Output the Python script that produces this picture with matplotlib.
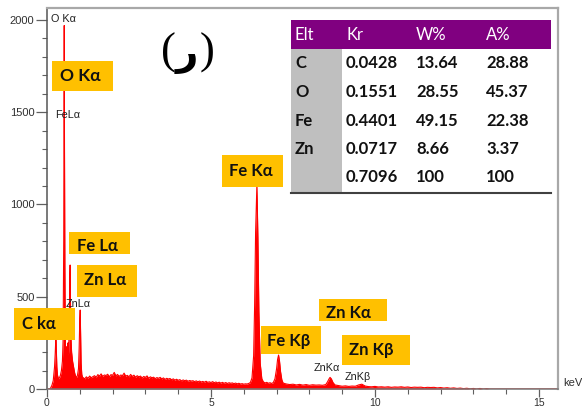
import numpy as np
import matplotlib
matplotlib.use("Agg")
import matplotlib.pyplot as plt
from matplotlib.patches import Rectangle
from matplotlib.ticker import MultipleLocator

# ---------------- data ----------------
# low-energy region (C, O, Fe L, Zn L)
low_E = [0.00, 0.10, 0.15, 0.19, 0.23, 0.25, 0.27, 0.28, 0.30, 0.32, 0.35, 0.38, 0.41,
         0.44, 0.47, 0.49, 0.51, 0.52, 0.525, 0.53, 0.545, 0.56, 0.58, 0.60, 0.62, 0.64,
         0.66, 0.68, 0.695, 0.705, 0.715, 0.73, 0.75, 0.78, 0.81, 0.84, 0.87, 0.90, 0.93,
         0.96, 0.98, 1.00, 1.012, 1.025, 1.04, 1.06, 1.08]
low_counts = [0, 2, 20, 45, 120, 190, 280, 240, 120, 75, 55, 60, 75,
              100, 150, 260, 800, 1500, 1970, 1500, 650, 240, 180, 230, 160, 250,
              190, 380, 600, 672, 480, 280, 200, 150, 120, 90, 70, 62, 75,
              110, 220, 380, 428, 300, 140, 80, 65]

# background 1.10 - 6.20 keV (0.05 keV channels)
bg1_counts = [62, 55, 66, 58, 70, 61, 67, 72, 63, 78, 70, 82, 68, 76, 73, 80, 66, 78, 74, 90,
              71, 79, 68, 76, 72, 86, 70, 74, 66, 79, 68, 75, 64, 72, 66, 70, 60, 68, 63, 71,
              58, 66, 61, 64, 56, 62, 58, 63, 55, 60, 52, 58, 54, 57, 50, 55, 48, 53, 47, 51,
              44, 49, 45, 48, 42, 46, 43, 45, 40, 44, 39, 43, 38, 41, 37, 42, 36, 39, 35, 40,
              34, 38, 33, 37, 32, 36, 31, 35, 30, 34, 31, 33, 29, 32, 28, 31, 27, 29, 26, 28,
              27, 30, 35]

# Fe K region
feK_E = [6.25, 6.30, 6.33, 6.36, 6.40, 6.43, 6.46, 6.50, 6.55, 6.60, 6.65, 6.70, 6.75,
         6.80, 6.85, 6.90, 6.95, 7.00, 7.03, 7.06, 7.09, 7.12, 7.16, 7.20]
feK_counts = [60, 180, 450, 850, 1110, 820, 420, 140, 55, 38, 33, 36, 31,
              34, 30, 35, 55, 110, 160, 184, 150, 95, 50, 32]

# background 7.3 - 8.5 keV
bg2_counts = [27, 24, 26, 22, 25, 21, 24, 20, 23, 21, 22, 20, 24]

# Zn K-alpha
znK_E = [8.55, 8.60, 8.63, 8.67, 8.72, 8.78]
znK_counts = [38, 55, 63, 55, 35, 22]

# background 8.9 - 13.6 keV (includes Zn K-beta)
bg3_counts = [18, 15, 17, 14, 16, 15, 22, 26, 16, 13, 12, 14, 11, 12, 10, 12, 9, 11, 10, 12,
              9, 11, 8, 10, 9, 10, 7, 9, 8, 9, 6, 8, 5, 7, 4, 6, 3, 5, 2, 4,
              1, 3, 0, 3, 0, 2, 0, 0]

# table
table_header = ["Elt", "Kr", "W%", "A%"]
table_elements = ["C", "O", "Fe", "Zn", ""]
table_kr = ["0.0428", "0.1551", "0.4401", "0.0717", "0.7096"]
table_w = ["13.64", "28.55", "49.15", "8.66", "100"]
table_a = ["28.88", "45.37", "22.38", "3.37", "100"]

x_ticks = [0, 5, 10, 15]
y_ticks = [0, 500, 1000, 1500, 2000]

# ---------------- assemble spectrum ----------------
bg1_E = np.linspace(1.10, 6.20, len(bg1_counts))
bg2_E = np.linspace(7.30, 8.50, len(bg2_counts))
bg3_E = np.linspace(8.90, 13.60, len(bg3_counts))
E = np.concatenate([low_E, bg1_E, feK_E, bg2_E, znK_E, bg3_E, [15.58]])
C = np.concatenate([low_counts, bg1_counts, feK_counts, bg2_counts, znK_counts, bg3_counts, [0]])

W, H = 582, 408
fig = plt.figure(figsize=(W / 100, H / 100), dpi=100)

def fx(px):
    return px / W

def fy(py):
    return 1 - py / H

ax = fig.add_axes([fx(47), fy(389), fx(558) - fx(47), fy(8) - fy(389)])
ax.fill_between(E, C, 0, color="#FF0000", lw=0, zorder=2)
ax.plot(E, C, color="#FF0000", lw=0.8, zorder=2)
ax.set_xlim(0, 15.58)
ax.set_ylim(0, 2065)

ax.set_xticks(x_ticks)
ax.set_yticks(y_ticks)
ax.xaxis.set_minor_locator(MultipleLocator(1))
ax.yaxis.set_minor_locator(MultipleLocator(100))
ax.tick_params(axis="y", which="major", direction="out", length=8, width=0.9,
               color="#606060", labelsize=8, labelcolor="#303030", pad=1)
ax.tick_params(axis="x", which="major", direction="out", length=6, width=0.9,
               color="#606060", labelsize=7.5, labelcolor="#303030", pad=0.5)
ax.tick_params(axis="both", which="minor", direction="out", length=3.5, width=0.8,
               color="#606060")
for lab in ax.get_xticklabels() + ax.get_yticklabels():
    lab.set_fontfamily("Liberation Sans")

ax.spines["left"].set_color("#555555")
ax.spines["left"].set_linewidth(1.1)
ax.spines["bottom"].set_color("#777777")
ax.spines["bottom"].set_linewidth(1.1)
for s in ["top", "right"]:
    ax.spines[s].set_color("#A8A8A8")
    ax.spines[s].set_linewidth(1.6)

fig.text(fx(563), fy(383), "keV", fontsize=8, family="Liberation Sans",
         color="#303030", va="center", ha="left")

# small peak labels
small_font = ["Liberation Sans", "DejaVu Sans"]
small_labels = [("O Kα", 51, 19), ("FeLα", 55, 115), ("ZnLα", 66, 304),
                ("ZnKα", 314, 368), ("ZnKβ", 345, 377)]
for t, x, y in small_labels:
    fig.text(fx(x), fy(y), t, fontsize=7.8, family=small_font, color="#202020",
             va="center", ha="left", zorder=4)

# orange label boxes
big_font = ["Lato", "DejaVu Sans"]
boxes = [("O Kα", (52, 61, 113, 91), 60, 76, 12.5),
         ("Fe Kα", (222, 155, 283, 187), 229, 171, 12),
         ("Fe Lα", (69, 232, 130, 254), 77, 246, 12),
         ("Zn Lα", (77, 265, 137, 297), 84, 280, 12),
         ("C kα", (14, 308, 75, 340), 22, 324, 12),
         ("Fe Kβ", (261, 326, 321, 354), 267, 341, 12),
         ("Zn Kα", (319, 299, 387, 321), 326, 313, 12),
         ("Zn Kβ", (342, 335, 410, 365), 349, 350, 12)]
for t, (x0, y0, x1, y1), tx, ty, fs in boxes:
    fig.add_artist(Rectangle((fx(x0), fy(y1)), fx(x1) - fx(x0), fy(y0) - fy(y1),
                             transform=fig.transFigure, facecolor="#FFC000",
                             edgecolor="none", zorder=5))
    fig.text(fx(tx), fy(ty), t, fontsize=fs, family=big_font, fontweight="bold",
             color="#111111", va="center", ha="left", zorder=6)

# title mark: thin serif parentheses around a bold Arabic letter
fig.text(fx(168), fy(53), "(", fontsize=32, family="Liberation Serif",
         color="black", va="center", ha="center", zorder=6)
fig.text(fx(207), fy(53), ")", fontsize=32, family="Liberation Serif",
         color="black", va="center", ha="center", zorder=6)
fig.text(fx(187), fy(55), "ر", fontsize=28, family="DejaVu Sans", fontweight="bold",
         color="black", va="center", ha="center", zorder=6)

# table
tx0, tx1 = 291, 551
fig.add_artist(Rectangle((fx(tx0), fy(49)), fx(tx1) - fx(tx0), fy(20) - fy(49),
                         transform=fig.transFigure, facecolor="#800080",
                         edgecolor="none", zorder=5))
fig.add_artist(Rectangle((fx(tx0), fy(193)), fx(tx1) - fx(tx0), fy(49) - fy(193),
                         transform=fig.transFigure, facecolor="white",
                         edgecolor="none", zorder=5))
fig.add_artist(Rectangle((fx(tx0), fy(193)), fx(342) - fx(tx0), fy(49) - fy(193),
                         transform=fig.transFigure, facecolor="#BFBFBF",
                         edgecolor="none", zorder=5))
fig.add_artist(plt.Line2D([fx(tx0), fx(tx1)], [fy(193), fy(193)],
                          transform=fig.transFigure, color="#404040", lw=1.5, zorder=6))

col_x = [295, 346, 416, 486]
for cx, h in zip(col_x, table_header):
    fig.text(fx(cx), fy(35), h, fontsize=12, family=big_font, color="white",
             va="center", ha="left", zorder=7)
row_y = [63, 92, 121, 149, 177]
for i, ry in enumerate(row_y):
    for cx, col in zip(col_x, [table_elements, table_kr, table_w, table_a]):
        fig.text(fx(cx), fy(ry), col[i], fontsize=12, family=big_font,
                 fontweight="bold", color="#111111", va="center", ha="left", zorder=7)

fig.savefig("out.png", dpi=100)
